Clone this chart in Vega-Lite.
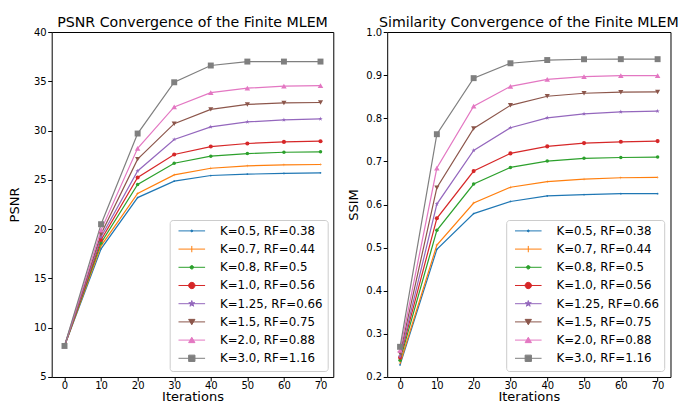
{
  "$schema": "https://vega.github.io/schema/vega-lite/v6.json",
  "padding": {"left": 7.7, "top": 15, "right": 5, "bottom": 0},
  "spacing": 12.5,
  "config": {
    "font": "DejaVu Sans",
    "view": {"stroke": "black", "strokeWidth": 1},
    "axis": {"grid": false, "domain": false, "tickColor": "black", "tickSize": 4, "labelColor": "black", "labelFont": "DejaVu Sans", "labelFontSize": 10, "titleFont": "DejaVu Sans", "titleFontSize": 13, "titleFontWeight": "normal", "titleColor": "black", "labelPadding": 1.5},
    "axisX": {"labelPadding": 0, "titlePadding": 0},
    "title": {"font": "DejaVu Sans", "fontSize": 14.2, "fontWeight": "normal", "color": "black", "offset": -3},
    "legend": {"orient": "bottom-right", "offset": 6, "fillColor": "white", "strokeColor": "#cccccc", "cornerRadius": 3, "padding": 5, "labelFont": "DejaVu Sans", "labelFontSize": 11.8, "labelColor": "black", "symbolSize": 40, "rowPadding": 5.2, "symbolOffset": 11.2, "labelOffset": 22.3, "title": null},
    "point": {"filled": true, "opacity": 1}
  },
  "data": {"values": [
    {"s":"K=0.5, RF=0.38","i":0,"psnr":8.15,"ssim":0.228},
    {"s":"K=0.5, RF=0.38","i":10,"psnr":18.0,"ssim":0.496},
    {"s":"K=0.5, RF=0.38","i":20,"psnr":23.2,"ssim":0.579},
    {"s":"K=0.5, RF=0.38","i":30,"psnr":24.87,"ssim":0.607},
    {"s":"K=0.5, RF=0.38","i":40,"psnr":25.44,"ssim":0.62},
    {"s":"K=0.5, RF=0.38","i":50,"psnr":25.58,"ssim":0.623},
    {"s":"K=0.5, RF=0.38","i":60,"psnr":25.65,"ssim":0.625},
    {"s":"K=0.5, RF=0.38","i":70,"psnr":25.71,"ssim":0.625},
    {"s":"K=0.7, RF=0.44","i":0,"psnr":8.15,"ssim":0.232},
    {"s":"K=0.7, RF=0.44","i":10,"psnr":18.3,"ssim":0.506},
    {"s":"K=0.7, RF=0.44","i":20,"psnr":23.62,"ssim":0.6035},
    {"s":"K=0.7, RF=0.44","i":30,"psnr":25.5,"ssim":0.64},
    {"s":"K=0.7, RF=0.44","i":40,"psnr":26.18,"ssim":0.653},
    {"s":"K=0.7, RF=0.44","i":50,"psnr":26.42,"ssim":0.659},
    {"s":"K=0.7, RF=0.44","i":60,"psnr":26.52,"ssim":0.662},
    {"s":"K=0.7, RF=0.44","i":70,"psnr":26.56,"ssim":0.663},
    {"s":"K=0.8, RF=0.5","i":0,"psnr":8.15,"ssim":0.239},
    {"s":"K=0.8, RF=0.5","i":10,"psnr":18.6,"ssim":0.54},
    {"s":"K=0.8, RF=0.5","i":20,"psnr":24.53,"ssim":0.6475},
    {"s":"K=0.8, RF=0.5","i":30,"psnr":26.69,"ssim":0.686},
    {"s":"K=0.8, RF=0.5","i":40,"psnr":27.4,"ssim":0.7007},
    {"s":"K=0.8, RF=0.5","i":50,"psnr":27.67,"ssim":0.707},
    {"s":"K=0.8, RF=0.5","i":60,"psnr":27.8,"ssim":0.709},
    {"s":"K=0.8, RF=0.5","i":70,"psnr":27.84,"ssim":0.71},
    {"s":"K=1.0, RF=0.56","i":0,"psnr":8.15,"ssim":0.245},
    {"s":"K=1.0, RF=0.56","i":10,"psnr":18.9,"ssim":0.568},
    {"s":"K=1.0, RF=0.56","i":20,"psnr":25.24,"ssim":0.6775},
    {"s":"K=1.0, RF=0.56","i":30,"psnr":27.57,"ssim":0.7185},
    {"s":"K=1.0, RF=0.56","i":40,"psnr":28.38,"ssim":0.7347},
    {"s":"K=1.0, RF=0.56","i":50,"psnr":28.69,"ssim":0.7424},
    {"s":"K=1.0, RF=0.56","i":60,"psnr":28.85,"ssim":0.7454},
    {"s":"K=1.0, RF=0.56","i":70,"psnr":28.92,"ssim":0.747},
    {"s":"K=1.25, RF=0.66","i":0,"psnr":8.15,"ssim":0.248},
    {"s":"K=1.25, RF=0.66","i":10,"psnr":19.2,"ssim":0.601},
    {"s":"K=1.25, RF=0.66","i":20,"psnr":25.9,"ssim":0.7255},
    {"s":"K=1.25, RF=0.66","i":30,"psnr":29.1,"ssim":0.778},
    {"s":"K=1.25, RF=0.66","i":40,"psnr":30.37,"ssim":0.801},
    {"s":"K=1.25, RF=0.66","i":50,"psnr":30.88,"ssim":0.81},
    {"s":"K=1.25, RF=0.66","i":60,"psnr":31.08,"ssim":0.815},
    {"s":"K=1.25, RF=0.66","i":70,"psnr":31.18,"ssim":0.8165},
    {"s":"K=1.5, RF=0.75","i":0,"psnr":8.15,"ssim":0.255},
    {"s":"K=1.5, RF=0.75","i":10,"psnr":19.5,"ssim":0.639},
    {"s":"K=1.5, RF=0.75","i":20,"psnr":27.1,"ssim":0.7763},
    {"s":"K=1.5, RF=0.75","i":30,"psnr":30.7,"ssim":0.83},
    {"s":"K=1.5, RF=0.75","i":40,"psnr":32.15,"ssim":0.851},
    {"s":"K=1.5, RF=0.75","i":50,"psnr":32.65,"ssim":0.858},
    {"s":"K=1.5, RF=0.75","i":60,"psnr":32.8,"ssim":0.8604},
    {"s":"K=1.5, RF=0.75","i":70,"psnr":32.85,"ssim":0.861},
    {"s":"K=2.0, RF=0.88","i":0,"psnr":8.15,"ssim":0.262},
    {"s":"K=2.0, RF=0.88","i":10,"psnr":19.9,"ssim":0.6845},
    {"s":"K=2.0, RF=0.88","i":20,"psnr":28.2,"ssim":0.828},
    {"s":"K=2.0, RF=0.88","i":30,"psnr":32.4,"ssim":0.874},
    {"s":"K=2.0, RF=0.88","i":40,"psnr":33.85,"ssim":0.89},
    {"s":"K=2.0, RF=0.88","i":50,"psnr":34.3,"ssim":0.8967},
    {"s":"K=2.0, RF=0.88","i":60,"psnr":34.5,"ssim":0.899},
    {"s":"K=2.0, RF=0.88","i":70,"psnr":34.55,"ssim":0.899},
    {"s":"K=3.0, RF=1.16","i":0,"psnr":8.15,"ssim":0.27},
    {"s":"K=3.0, RF=1.16","i":10,"psnr":20.5,"ssim":0.763},
    {"s":"K=3.0, RF=1.16","i":20,"psnr":29.7,"ssim":0.893},
    {"s":"K=3.0, RF=1.16","i":30,"psnr":34.9,"ssim":0.9275},
    {"s":"K=3.0, RF=1.16","i":40,"psnr":36.6,"ssim":0.935},
    {"s":"K=3.0, RF=1.16","i":50,"psnr":37.0,"ssim":0.9368},
    {"s":"K=3.0, RF=1.16","i":60,"psnr":37.0,"ssim":0.937},
    {"s":"K=3.0, RF=1.16","i":70,"psnr":37.0,"ssim":0.937}
  ]},
  "resolve": {"scale": {"color": "independent", "shape": "independent", "size": "independent"}},
  "hconcat": [
    {
      "title": "PSNR Convergence of the Finite MLEM",
      "width": 281.6, "height": 345,
      "encoding": {
        "x": {"field": "i", "type": "quantitative", "scale": {"domain": [-3.5, 73.5], "nice": false, "zero": false}, "axis": {"values": [0,10,20,30,40,50,60,70], "title": "Iterations"}},
        "y": {"field": "psnr", "type": "quantitative", "scale": {"domain": [5, 40], "nice": false, "zero": false}, "axis": {"values": [5,10,15,20,25,30,35,40], "title": "PSNR", "titlePadding": 12}},
        "color": {"field": "s", "type": "nominal", "scale": {"domain": ["K=0.5, RF=0.38","K=0.7, RF=0.44","K=0.8, RF=0.5","K=1.0, RF=0.56","K=1.25, RF=0.66","K=1.5, RF=0.75","K=2.0, RF=0.88","K=3.0, RF=1.16"], "range": ["#1f77b4","#ff7f0e","#2ca02c","#d62728","#9467bd","#8c564b","#e377c2","#7f7f7f"]},
          "legend": {"encode": {"symbols": {"update": {
            "shape": {"signal": "['M-4.2,0L4.2,0M-0.3,0A0.3,0.3 0 1,0 0.3,0A0.3,0.3 0 1,0 -0.3,0Z','M-4.2,0L4.2,0M0,-1L0,1','M-4.2,0L4.2,0M-0.55,0A0.55,0.55 0 1,0 0.55,0A0.55,0.55 0 1,0 -0.55,0Z','M-4.2,0L4.2,0M-1,0A1,1 0 1,0 1,0A1,1 0 1,0 -1,0Z','M-4.2,0L4.2,0M0,-1L0.2245,-0.309L0.951,-0.309L0.363,0.118L0.588,0.809L0,0.382L-0.588,0.809L-0.363,0.118L-0.951,-0.309L-0.2245,-0.309Z','M-4.2,0L4.2,0M-1,-0.8L1,-0.8L0,0.9Z','M-4.2,0L4.2,0M-1,0.8L1,0.8L0,-0.9Z','M-4.2,0L4.2,0M-1,-1L1,-1L1,1L-1,1Z'][datum.index]"},
            "stroke": {"signal": "['#1f77b4','#ff7f0e','#2ca02c','#d62728','#9467bd','#8c564b','#e377c2','#7f7f7f'][datum.index]"},
            "fill": {"signal": "['#1f77b4','#ff7f0e','#2ca02c','#d62728','#9467bd','#8c564b','#e377c2','#7f7f7f'][datum.index]"},
            "strokeWidth": {"value": 1},
            "size": {"value": 40},
            "opacity": {"value": 1}
          }}}}}
      },
      "layer": [
        {"mark": {"type": "line", "strokeWidth": 1.2}},
        {"mark": {"type": "point"},
         "encoding": {
           "shape": {"field": "s", "type": "nominal", "legend": null, "scale": {"domain": ["K=0.5, RF=0.38","K=0.7, RF=0.44","K=0.8, RF=0.5","K=1.0, RF=0.56","K=1.25, RF=0.66","K=1.5, RF=0.75","K=2.0, RF=0.88","K=3.0, RF=1.16","none"], "range": ["circle", "M-1,-0.12L-0.12,-0.12L-0.12,-1L0.12,-1L0.12,-0.12L1,-0.12L1,0.12L0.12,0.12L0.12,1L-0.12,1L-0.12,0.12L-1,0.12Z", "circle", "circle", "M0,-1L0.2245,-0.309L0.951,-0.309L0.363,0.118L0.588,0.809L0,0.382L-0.588,0.809L-0.363,0.118L-0.951,-0.309L-0.2245,-0.309Z", "triangle-down", "triangle-up", "square", "diamond"]}},
           "size": {"field": "s", "type": "nominal", "legend": null, "scale": {"domain": ["K=0.5, RF=0.38","K=0.7, RF=0.44","K=0.8, RF=0.5","K=1.0, RF=0.56","K=1.25, RF=0.66","K=1.5, RF=0.75","K=2.0, RF=0.88","K=3.0, RF=1.16","nil"], "range": [3, 40, 12, 38, 45, 35, 35, 45, 1]}}
         }}
      ]
    },
    {
      "title": "Similarity Convergence of the Finite MLEM",
      "width": 283.3, "height": 345,
      "encoding": {
        "x": {"field": "i", "type": "quantitative", "scale": {"domain": [-3.5, 73.5], "nice": false, "zero": false}, "axis": {"values": [0,10,20,30,40,50,60,70], "title": "Iterations"}},
        "y": {"field": "ssim", "type": "quantitative", "scale": {"domain": [0.2, 1.0], "nice": false, "zero": false}, "axis": {"values": [0.2,0.3,0.4,0.5,0.6,0.7,0.8,0.9,1.0], "format": ".1f", "title": "SSIM", "titlePadding": 5}},
        "color": {"field": "s", "type": "nominal", "scale": {"domain": ["K=0.5, RF=0.38","K=0.7, RF=0.44","K=0.8, RF=0.5","K=1.0, RF=0.56","K=1.25, RF=0.66","K=1.5, RF=0.75","K=2.0, RF=0.88","K=3.0, RF=1.16"], "range": ["#1f77b4","#ff7f0e","#2ca02c","#d62728","#9467bd","#8c564b","#e377c2","#7f7f7f"]},
          "legend": {"encode": {"symbols": {"update": {
            "shape": {"signal": "['M-4.2,0L4.2,0M-0.3,0A0.3,0.3 0 1,0 0.3,0A0.3,0.3 0 1,0 -0.3,0Z','M-4.2,0L4.2,0M0,-1L0,1','M-4.2,0L4.2,0M-0.55,0A0.55,0.55 0 1,0 0.55,0A0.55,0.55 0 1,0 -0.55,0Z','M-4.2,0L4.2,0M-1,0A1,1 0 1,0 1,0A1,1 0 1,0 -1,0Z','M-4.2,0L4.2,0M0,-1L0.2245,-0.309L0.951,-0.309L0.363,0.118L0.588,0.809L0,0.382L-0.588,0.809L-0.363,0.118L-0.951,-0.309L-0.2245,-0.309Z','M-4.2,0L4.2,0M-1,-0.8L1,-0.8L0,0.9Z','M-4.2,0L4.2,0M-1,0.8L1,0.8L0,-0.9Z','M-4.2,0L4.2,0M-1,-1L1,-1L1,1L-1,1Z'][datum.index]"},
            "stroke": {"signal": "['#1f77b4','#ff7f0e','#2ca02c','#d62728','#9467bd','#8c564b','#e377c2','#7f7f7f'][datum.index]"},
            "fill": {"signal": "['#1f77b4','#ff7f0e','#2ca02c','#d62728','#9467bd','#8c564b','#e377c2','#7f7f7f'][datum.index]"},
            "strokeWidth": {"value": 1},
            "size": {"value": 40},
            "opacity": {"value": 1}
          }}}}}
      },
      "layer": [
        {"mark": {"type": "line", "strokeWidth": 1.2}},
        {"mark": {"type": "point"},
         "encoding": {
           "shape": {"field": "s", "type": "nominal", "legend": null, "scale": {"domain": ["K=0.5, RF=0.38","K=0.7, RF=0.44","K=0.8, RF=0.5","K=1.0, RF=0.56","K=1.25, RF=0.66","K=1.5, RF=0.75","K=2.0, RF=0.88","K=3.0, RF=1.16","none"], "range": ["circle", "M-1,-0.12L-0.12,-0.12L-0.12,-1L0.12,-1L0.12,-0.12L1,-0.12L1,0.12L0.12,0.12L0.12,1L-0.12,1L-0.12,0.12L-1,0.12Z", "circle", "circle", "M0,-1L0.2245,-0.309L0.951,-0.309L0.363,0.118L0.588,0.809L0,0.382L-0.588,0.809L-0.363,0.118L-0.951,-0.309L-0.2245,-0.309Z", "triangle-down", "triangle-up", "square", "diamond"]}},
           "size": {"field": "s", "type": "nominal", "legend": null, "scale": {"domain": ["K=0.5, RF=0.38","K=0.7, RF=0.44","K=0.8, RF=0.5","K=1.0, RF=0.56","K=1.25, RF=0.66","K=1.5, RF=0.75","K=2.0, RF=0.88","K=3.0, RF=1.16","nil"], "range": [3, 40, 12, 38, 45, 35, 35, 45, 1]}}
         }}
      ]
    }
  ]
}
